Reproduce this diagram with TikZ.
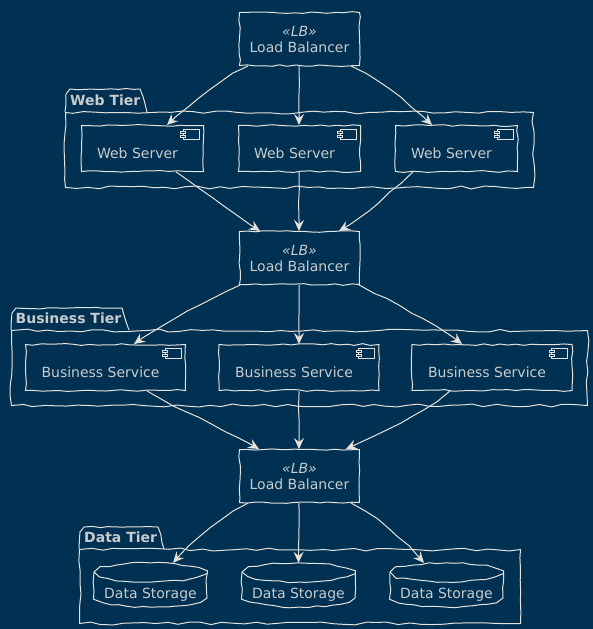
\documentclass[tikz,border=0pt]{standalone}
\usepackage{fontspec}
\setmainfont{DejaVu Sans}
\usetikzlibrary{decorations.pathmorphing,arrows.meta}
\definecolor{bgc}{HTML}{003153}
\definecolor{linec}{HTML}{E6E3DC}
\definecolor{textc}{HTML}{C9CBCB}
\pgfmathsetseed{42}
\tikzset{
  x=1pt,y=-1pt,
  wob/.style={decorate,decoration={random steps,segment length=8pt,amplitude=.9pt}},
  wobbig/.style={decorate,decoration={random steps,segment length=11pt,amplitude=1.5pt}},
  boxn/.style={draw=linec,line width=1pt,wob,inner sep=0pt,anchor=north west},
  lbbox/.style={boxn,minimum width=120pt,minimum height=53pt,text=textc,font=\fontsize{14}{16}\selectfont,align=center},
  wsbox/.style={boxn,minimum width=122pt,minimum height=46pt},
  bsbox/.style={boxn,minimum width=160pt,minimum height=46pt},
  pkg/.style={draw=linec,line width=1pt,wobbig,inner sep=0pt,anchor=north west},
  tabline/.style={draw=linec,line width=1pt,wob},
  tabtext/.style={text=textc,font=\fontsize{14}{16}\selectfont\bfseries,inner sep=0pt,anchor=west},
  lab/.style={text=textc,font=\fontsize{14}{16}\selectfont,inner sep=0pt},
  dbn/.style={lab,minimum width=113pt,minimum height=64pt},
  conn/.style={draw=linec,line width=1pt,-{Stealth[length=11pt,width=10pt,inset=4pt]},
    decorate,decoration={random steps,segment length=14pt,amplitude=.7pt,post=lineto,post length=12pt,pre=lineto,pre length=3pt}},
  iconl/.style={draw=linec,line width=.9pt}
}
\newcommand{\compicon}[1]{%
  \begin{scope}[shift={(#1.north east)}]
    \draw[iconl] (-21,4) rectangle (-5,14);
    \draw[iconl,fill=bgc] (-23.5,6.5) rectangle (-18.5,8.5);
    \draw[iconl,fill=bgc] (-23.5,10) rectangle (-18.5,12);
  \end{scope}}
\newcommand{\dbdraw}[1]{%
  \begin{scope}[shift={(#1.center)}]
    \draw[tabline] (-56.5,-23) .. controls (-50,-28) and (-30,-32) .. (0,-32) .. controls (30,-32) and (50,-28) .. (56.5,-23)
      -- (56.5,3) .. controls (50,8) and (30,12) .. (0,12) .. controls (-30,12) and (-50,8) .. (-56.5,3) -- cycle;
    \draw[tabline] (-56.5,-23) .. controls (-50,-17) and (-30,-13) .. (0,-13) .. controls (30,-13) and (50,-17) .. (56.5,-23);
  \end{scope}}
\begin{document}
\begin{tikzpicture}
\useasboundingbox (0,0) rectangle (593,629);
\fill[bgc] (0,0) rectangle (593,629);

% packages
\node[pkg,minimum width=468pt,minimum height=75pt] (webp) at (65,112) {};
\draw[tabline] (webp.north west) -- (66,94) -- (70,89) -- (140,89) -- (147,112);
\node[tabtext] (webt) at (70,100.5) {Web Tier};

\node[pkg,minimum width=576pt,minimum height=75pt] (busp) at (11,330) {};
\draw[tabline] (busp.north west) -- (12,313) -- (16,308) -- (122,308) -- (129,330);
\node[tabtext] (bust) at (15.5,318.5) {Business Tier};

\node[pkg,minimum width=441pt,minimum height=74pt] (datp) at (79,549) {};
\draw[tabline] (datp.north west) -- (80,532) -- (84,527) -- (158,527) -- (164,549);
\node[tabtext] (datt) at (84,537) {Data Tier};

% load balancers
\node[lbbox] (lb1) at (239,12) {\textit{«LB»}\\Load Balancer};
\node[lbbox] (lb2) at (239,231) {\textit{«LB»}\\Load Balancer};
\node[lbbox] (lb3) at (239,449) {\textit{«LB»}\\Load Balancer};

% web servers
\node[wsbox,label={[lab,xshift=-5pt,yshift=-5pt]center:Web Server}] (ws1) at (81,125) {};
\node[wsbox,label={[lab,xshift=-5pt,yshift=-5pt]center:Web Server}] (ws2) at (238,125) {};
\node[wsbox,label={[lab,xshift=-5pt,yshift=-5pt]center:Web Server}] (ws3) at (395,125) {};
\compicon{ws1}\compicon{ws2}\compicon{ws3}

% business services
\node[bsbox,label={[lab,xshift=-5pt,yshift=-4.5pt]center:Business Service}] (bs1) at (25,344) {};
\node[bsbox,label={[lab,xshift=-5pt,yshift=-4.5pt]center:Business Service}] (bs2) at (218.5,344) {};
\node[bsbox,label={[lab,xshift=-5pt,yshift=-4.5pt]center:Business Service}] (bs3) at (411.5,344) {};
\compicon{bs1}\compicon{bs2}\compicon{bs3}

% data storage
\node[dbn] (db1) at (150.5,595) {Data Storage};
\node[dbn] (db2) at (298.5,595) {Data Storage};
\node[dbn] (db3) at (446.5,595) {Data Storage};
\dbdraw{db1}\dbdraw{db2}\dbdraw{db3}

% connectors
\draw[conn] ([xshift=9pt]lb1.south west) .. controls +(-25,12) and +(28,-26) .. ([xshift=86pt]ws1.north west);
\draw[conn] ([xshift=60pt]lb1.south west) -- ([xshift=61pt]ws2.north west);
\draw[conn] ([xshift=-9pt]lb1.south east) .. controls +(25,12) and +(-28,-26) .. ([xshift=37pt]ws3.north west);

\draw[conn] ([xshift=95pt]ws1.south west) .. controls +(28,18) and +(-28,-18) .. ([xshift=21pt]lb2.north west);
\draw[conn] ([xshift=61pt]ws2.south west) -- ([xshift=60pt]lb2.north west);
\draw[conn] ([xshift=18pt]ws3.south west) .. controls +(-25,22) and +(22,-12) .. ([xshift=-21pt]lb2.north east);

\draw[conn] ([xshift=1pt]lb2.south west) .. controls +(-28,14) and +(30,-22) .. ([xshift=109pt]bs1.north west);
\draw[conn] ([xshift=60pt]lb2.south west) -- ([xshift=80.5pt]bs2.north west);
\draw[conn] ([xshift=-1pt]lb2.south east) .. controls +(28,14) and +(-30,-22) .. ([xshift=50.5pt]bs3.north west);

\draw[conn] ([xshift=122pt]bs1.south west) .. controls +(35,20) and +(-35,-20) .. ([xshift=20pt]lb3.north west);
\draw[conn] ([xshift=80.5pt]bs2.south west) -- ([xshift=60pt]lb3.north west);
\draw[conn] ([xshift=38.5pt]bs3.south west) .. controls +(-30,25) and +(25,-12) .. ([xshift=-14pt]lb3.north east);

\draw[conn] ([xshift=9pt]lb3.south west) .. controls +(-25,14) and +(25,-28) .. ([xshift=22.5pt]db1.north);
\draw[conn] ([xshift=60pt]lb3.south west) -- (db2.north);
\draw[conn] ([xshift=-9pt]lb3.south east) .. controls +(25,14) and +(-25,-28) .. ([xshift=-22.5pt]db3.north);
\end{tikzpicture}
\end{document}
